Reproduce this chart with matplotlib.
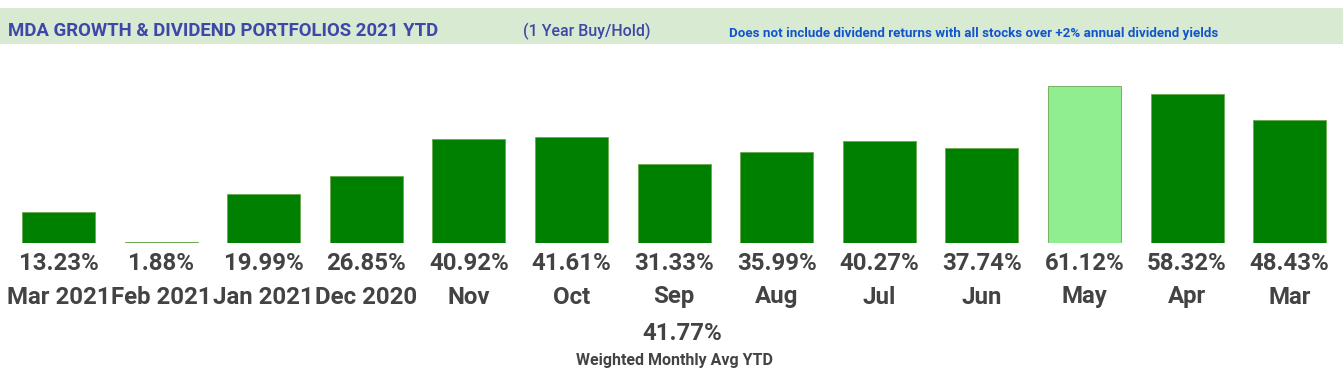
import matplotlib
matplotlib.use("Agg")
import matplotlib.pyplot as plt
from matplotlib.patches import Rectangle
from matplotlib.transforms import blended_transform_factory

# data
months = ["Mar 2021", "Feb 2021", "Jan 2021", "Dec 2020", "Nov", "Oct", "Sep",
          "Aug", "Jul", "Jun", "May", "Apr", "Mar"]
returns = [13.23, 1.88, 19.99, 26.85, 40.92, 41.61, 31.33, 35.99, 40.27, 37.74,
           61.12, 58.32, 48.43]
highlight = "May"
weighted_avg = 41.77

title = "MDA GROWTH & DIVIDEND PORTFOLIOS 2021 YTD"
hold_note = "(1 Year Buy/Hold)"
div_note = "Does not include dividend returns with all stocks over +2% annual dividend yields"
avg_label = "Weighted Monthly Avg YTD"

W, H = 1343, 375
plt.rcParams["font.family"] = ["Roboto", "DejaVu Sans"]
fig = plt.figure(figsize=(W / 100, H / 100), dpi=100)

def fy(px):
    return 1 - px / H

# header band
fig.patches.append(Rectangle((0, fy(44)), 1, (44 - 8) / H, transform=fig.transFigure,
                             facecolor="#d9ead3", edgecolor="none", zorder=0))
fig.text(8 / W, fy(31), title, fontsize=13.4, fontweight="bold", color="#3d48a8",
         va="center", ha="left")
fig.text(523 / W, fy(31), hold_note, fontsize=11.5, fontweight="medium", color="#3d48a8",
         va="center", ha="left")
fig.text(729 / W, fy(33), div_note, fontsize=9.6, fontweight="bold", color="#1155cc",
         va="center", ha="left")

# bars
step = 102.6
first = 58.5
ax = fig.add_axes([0, fy(242.7), 1, (242.7 - 60) / H])
x = list(range(len(months)))
colors = ["#90ee90" if m == highlight else "#008000" for m in months]
ax.bar(x, returns, width=0.71, color=colors, edgecolor="#6aa84f", linewidth=0.6)
ax.set_xlim(-first / step, (W - first) / step)
ax.set_ylim(1.45, 1.45 + (242.7 - 60) / 2.62)
ax.axis("off")

tr = blended_transform_factory(ax.transData, fig.transFigure)
for i, (m, v) in enumerate(zip(months, returns)):
    ax.text(i, fy(263), f"{v:.2f}%", transform=tr, ha="center", va="center",
            fontsize=17.3, fontweight="bold", color="#434343")
    ax.text(i, fy(297), m, transform=tr, ha="center", va="center",
            fontsize=17.3, fontweight="bold", color="#434343")

fig.text(682 / W, fy(334), f"{weighted_avg:.2f}%", ha="center", va="center",
         fontsize=17.3, fontweight="bold", color="#434343")
fig.text(674 / W, fy(361), avg_label, ha="center", va="center",
         fontsize=11.5, fontweight="bold", color="#434343")

fig.savefig("out.png", dpi=100)
